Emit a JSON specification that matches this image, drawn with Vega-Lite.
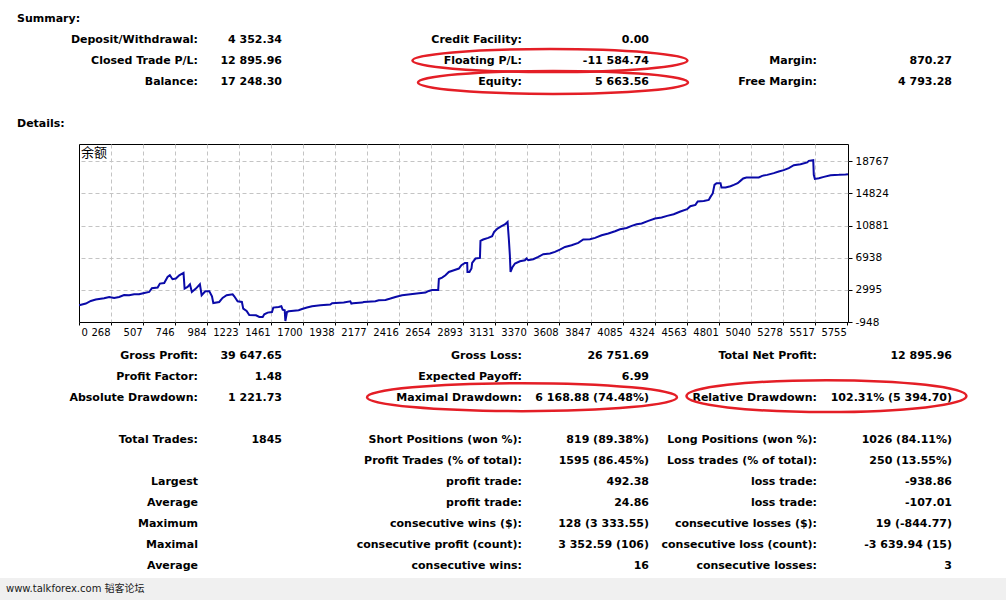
{
  "$schema": "https://vega.github.io/schema/vega-lite/v6.json",
  "width": 769,
  "height": 178,
  "autosize": "none",
  "padding": {"left": 79, "top": 144, "right": 158, "bottom": 278},
  "background": "white",
  "config": {
    "view": {"stroke": "black", "strokeWidth": 1},
    "font": "DejaVu Sans",
    "text": {"font": "DejaVu Sans", "fontSize": 11, "fontWeight": "bold", "color": "black", "baseline": "middle"}
  },
  "datasets": {
    "balance": [
      {"trade":30,"balance":1103},{"trade":80,"balance":1312},{"trade":117,"balance":1631},{"trade":154,"balance":1803},{"trade":216,"balance":1962},{"trade":254,"balance":2122},{"trade":291,"balance":1999},{"trade":328,"balance":2122},{"trade":365,"balance":2368},{"trade":403,"balance":2331},{"trade":440,"balance":2454},{"trade":477,"balance":2454},{"trade":515,"balance":2613},{"trade":552,"balance":2736},{"trade":572,"balance":3190},{"trade":615,"balance":3276},{"trade":632,"balance":3768},{"trade":664,"balance":3841},{"trade":689,"balance":4578},{"trade":706,"balance":4787},{"trade":726,"balance":4296},{"trade":751,"balance":4382},{"trade":776,"balance":4787},{"trade":808,"balance":5069},{"trade":816,"balance":3154},{"trade":838,"balance":3350},{"trade":856,"balance":3682},{"trade":870,"balance":2736},{"trade":900,"balance":3154},{"trade":930,"balance":3682},{"trade":943,"balance":2331},{"trade":970,"balance":2822},{"trade":1000,"balance":2822},{"trade":1020,"balance":2208},{"trade":1030,"balance":1385},{"trade":1074,"balance":1508},{"trade":1099,"balance":1999},{"trade":1129,"balance":2331},{"trade":1174,"balance":2454},{"trade":1186,"balance":2208},{"trade":1211,"balance":1594},{"trade":1243,"balance":1508},{"trade":1253,"balance":698},{"trade":1278,"balance":403},{"trade":1298,"balance":-88},{"trade":1348,"balance":-125},{"trade":1373,"balance":-334},{"trade":1398,"balance":-334},{"trade":1410,"balance":-2},{"trade":1435,"balance":206},{"trade":1467,"balance":280},{"trade":1477,"balance":820},{"trade":1517,"balance":894},{"trade":1537,"balance":980},{"trade":1547,"balance":575},{"trade":1562,"balance":489},{"trade":1567,"balance":-825},{"trade":1579,"balance":280},{"trade":1592,"balance":366},{"trade":1666,"balance":489},{"trade":1691,"balance":648},{"trade":1728,"balance":820},{"trade":1766,"balance":980},{"trade":1828,"balance":1103},{"trade":1902,"balance":1189},{"trade":1915,"balance":1348},{"trade":2002,"balance":1434},{"trade":2051,"balance":1594},{"trade":2059,"balance":1312},{"trade":2071,"balance":1348},{"trade":2139,"balance":1434},{"trade":2151,"balance":1508},{"trade":2238,"balance":1594},{"trade":2263,"balance":1717},{"trade":2313,"balance":1754},{"trade":2350,"balance":1926},{"trade":2387,"balance":2122},{"trade":2437,"balance":2331},{"trade":2499,"balance":2454},{"trade":2562,"balance":2576},{"trade":2611,"balance":2662},{"trade":2636,"balance":2859},{"trade":2661,"balance":2982},{"trade":2706,"balance":2982},{"trade":2711,"balance":4332},{"trade":2735,"balance":4504},{"trade":2760,"balance":4787},{"trade":2785,"balance":5192},{"trade":2823,"balance":5401},{"trade":2860,"balance":5610},{"trade":2879,"balance":6015},{"trade":2905,"balance":6297},{"trade":2922,"balance":6297},{"trade":2924,"balance":5192},{"trade":2939,"balance":5192},{"trade":2954,"balance":5610},{"trade":2959,"balance":6297},{"trade":2984,"balance":6838},{"trade":3017,"balance":6911},{"trade":3021,"balance":8999},{"trade":3041,"balance":9171},{"trade":3079,"balance":9367},{"trade":3108,"balance":9576},{"trade":3123,"balance":10104},{"trade":3148,"balance":10522},{"trade":3178,"balance":10804},{"trade":3203,"balance":11013},{"trade":3223,"balance":11332},{"trade":3233,"balance":9085},{"trade":3240,"balance":7243},{"trade":3245,"balance":5192},{"trade":3258,"balance":5732},{"trade":3278,"balance":6224},{"trade":3315,"balance":6506},{"trade":3352,"balance":6629},{"trade":3364,"balance":6838},{"trade":3377,"balance":6629},{"trade":3414,"balance":6752},{"trade":3452,"balance":7034},{"trade":3489,"balance":7366},{"trade":3539,"balance":7452},{"trade":3576,"balance":7648},{"trade":3613,"balance":7943},{"trade":3651,"balance":8262},{"trade":3700,"balance":8471},{"trade":3750,"balance":8753},{"trade":3787,"balance":9171},{"trade":3837,"balance":9208},{"trade":3875,"balance":9367},{"trade":3924,"balance":9699},{"trade":3974,"balance":9908},{"trade":4024,"balance":10190},{"trade":4061,"balance":10436},{"trade":4110,"balance":10595},{"trade":4148,"balance":10841},{"trade":4185,"balance":11050},{"trade":4222,"balance":11136},{"trade":4272,"balance":11455},{"trade":4322,"balance":11750},{"trade":4371,"balance":11872},{"trade":4412,"balance":12069},{"trade":4461,"balance":12278},{"trade":4511,"balance":12609},{"trade":4561,"balance":12892},{"trade":4585,"balance":13260},{"trade":4623,"balance":13420},{"trade":4640,"balance":13837},{"trade":4685,"balance":13911},{"trade":4722,"balance":14034},{"trade":4735,"balance":14402},{"trade":4752,"balance":14820},{"trade":4765,"balance":15876},{"trade":4780,"balance":16084},{"trade":4810,"balance":16084},{"trade":4817,"balance":15556},{"trade":4847,"balance":15556},{"trade":4884,"balance":15716},{"trade":4909,"balance":15876},{"trade":4938,"balance":16084},{"trade":4958,"balance":16367},{"trade":4979,"balance":16662},{"trade":5003,"balance":16784},{"trade":5095,"balance":16784},{"trade":5120,"balance":16981},{"trade":5158,"balance":17104},{"trade":5207,"balance":17312},{"trade":5244,"balance":17521},{"trade":5281,"balance":17681},{"trade":5319,"balance":17926},{"trade":5356,"balance":18295},{"trade":5406,"balance":18418},{"trade":5456,"balance":18626},{"trade":5468,"balance":18823},{"trade":5501,"balance":18909},{"trade":5505,"balance":17104},{"trade":5513,"balance":16612},{"trade":5543,"balance":16698},{"trade":5580,"balance":16858},{"trade":5630,"balance":17067},{"trade":5692,"balance":17104},{"trade":5742,"balance":17153},{"trade":5760,"balance":17190}
    ],
    "cells": [
      {"r":1,"c":1,"t":"Deposit/Withdrawal:"},{"r":1,"c":2,"t":"4 352.34"},{"r":1,"c":3,"t":"Credit Facility:"},{"r":1,"c":4,"t":"0.00"},
      {"r":2,"c":1,"t":"Closed Trade P/L:"},{"r":2,"c":2,"t":"12 895.96"},{"r":2,"c":3,"t":"Floating P/L:"},{"r":2,"c":4,"t":"-11 584.74"},{"r":2,"c":5,"t":"Margin:"},{"r":2,"c":6,"t":"870.27"},
      {"r":3,"c":1,"t":"Balance:"},{"r":3,"c":2,"t":"17 248.30"},{"r":3,"c":3,"t":"Equity:"},{"r":3,"c":4,"t":"5 663.56"},{"r":3,"c":5,"t":"Free Margin:"},{"r":3,"c":6,"t":"4 793.28"},
      {"r":16,"c":1,"t":"Gross Profit:"},{"r":16,"c":2,"t":"39 647.65"},{"r":16,"c":3,"t":"Gross Loss:"},{"r":16,"c":4,"t":"26 751.69"},{"r":16,"c":5,"t":"Total Net Profit:"},{"r":16,"c":6,"t":"12 895.96"},
      {"r":17,"c":1,"t":"Profit Factor:"},{"r":17,"c":2,"t":"1.48"},{"r":17,"c":3,"t":"Expected Payoff:"},{"r":17,"c":4,"t":"6.99"},
      {"r":18,"c":1,"t":"Absolute Drawdown:"},{"r":18,"c":2,"t":"1 221.73"},{"r":18,"c":3,"t":"Maximal Drawdown:"},{"r":18,"c":4,"t":"6 168.88 (74.48%)"},{"r":18,"c":5,"t":"Relative Drawdown:"},{"r":18,"c":6,"t":"102.31% (5 394.70)"},
      {"r":20,"c":1,"t":"Total Trades:"},{"r":20,"c":2,"t":"1845"},{"r":20,"c":3,"t":"Short Positions (won %):"},{"r":20,"c":4,"t":"819 (89.38%)"},{"r":20,"c":5,"t":"Long Positions (won %):"},{"r":20,"c":6,"t":"1026 (84.11%)"},
      {"r":21,"c":3,"t":"Profit Trades (% of total):"},{"r":21,"c":4,"t":"1595 (86.45%)"},{"r":21,"c":5,"t":"Loss trades (% of total):"},{"r":21,"c":6,"t":"250 (13.55%)"},
      {"r":22,"c":1,"t":"Largest"},{"r":22,"c":3,"t":"profit trade:"},{"r":22,"c":4,"t":"492.38"},{"r":22,"c":5,"t":"loss trade:"},{"r":22,"c":6,"t":"-938.86"},
      {"r":23,"c":1,"t":"Average"},{"r":23,"c":3,"t":"profit trade:"},{"r":23,"c":4,"t":"24.86"},{"r":23,"c":5,"t":"loss trade:"},{"r":23,"c":6,"t":"-107.01"},
      {"r":24,"c":1,"t":"Maximum"},{"r":24,"c":3,"t":"consecutive wins ($):"},{"r":24,"c":4,"t":"128 (3 333.55)"},{"r":24,"c":5,"t":"consecutive losses ($):"},{"r":24,"c":6,"t":"19 (-844.77)"},
      {"r":25,"c":1,"t":"Maximal"},{"r":25,"c":3,"t":"consecutive profit (count):"},{"r":25,"c":4,"t":"3 352.59 (106)"},{"r":25,"c":5,"t":"consecutive loss (count):"},{"r":25,"c":6,"t":"-3 639.94 (15)"},
      {"r":26,"c":1,"t":"Average"},{"r":26,"c":3,"t":"consecutive wins:"},{"r":26,"c":4,"t":"16"},{"r":26,"c":5,"t":"consecutive losses:"},{"r":26,"c":6,"t":"3"}
    ]
  },
  "resolve": {"scale": {"x": "independent", "y": "independent"}},
  "layer": [
    {
      "layer": [
        {
          "data": {"name": "balance"},
          "mark": {"type": "line", "color": "#0a0aa8", "strokeWidth": 2, "strokeJoin": "miter"},
          "encoding": {
            "x": {
              "field": "trade", "type": "quantitative",
              "scale": {"domain": [29, 5760], "nice": false, "zero": false},
              "axis": {
                "title": null,
                "values": [29, 268, 507, 746, 984, 1223, 1461, 1700, 1938, 2177, 2416, 2654, 2893, 3131, 3370, 3608, 3847, 4085, 4324, 4563, 4801, 5040, 5278, 5517, 5755],
                "tickCount": 40,
                "format": "d",
                "labelExpr": "datum.value < 100 ? '0' : datum.label",
                "labelAlign": {"condition": {"test": "datum.value < 100", "value": "left"}, "value": "right"},
                "labelOffset": {"condition": {"test": "datum.value < 100", "value": 2}, "value": -1},
                "labelBaseline": "top",
                "labelPadding": 2,
                "labelFont": "DejaVu Sans",
                "labelFontSize": 10,
                "labelColor": "black",
                "labelOverlap": false,
                "labelFlush": false,
                "tickSize": 3,
                "tickColor": "black",
                "domain": false,
                "grid": true,
                "gridColor": "#c4c4c4",
                "gridDash": [4, 3],
                "gridOpacity": {"condition": {"test": "datum.value < 100 || datum.value > 5700", "value": 0}, "value": 1}
              }
            },
            "y": {
              "field": "balance", "type": "quantitative",
              "scale": {"domain": [-948, 20890], "nice": false, "zero": false},
              "axis": {
                "title": null,
                "orient": "right",
                "values": [-948, 2995, 6938, 10881, 14824, 18767],
                "tickCount": 12,
                "labelExpr": "datum.value < 0 ? '-' + format(-datum.value, 'd') : format(datum.value, 'd')",
                "labelAlign": "left",
                "labelBaseline": "middle",
                "labelPadding": 3,
                "labelFont": "DejaVu Sans",
                "labelFontSize": 10.5,
                "labelColor": "black",
                "labelOverlap": false,
                "labelFlush": false,
                "tickSize": 4,
                "tickColor": "black",
                "domain": false,
                "grid": true,
                "gridColor": "#c4c4c4",
                "gridDash": [4, 3],
                "gridOpacity": {"condition": {"test": "datum.value < 0", "value": 0}, "value": 1}
              }
            }
          }
        },
        {
          "data": {"values": [{"t": "余额", "trade": 29, "balance": 20890}]},
          "mark": {"type": "text", "align": "left", "baseline": "top", "dx": 2, "dy": 3, "font": "Noto Sans CJK SC", "fontSize": 13, "fontWeight": "normal", "color": "black"},
          "encoding": {
            "x": {"field": "trade", "type": "quantitative"},
            "y": {"field": "balance", "type": "quantitative"},
            "text": {"field": "t"}
          }
        }
      ]
    },
    {
      "layer": [
        {
          "data": {"values": [{"band": "footer", "c0": 0, "c1": 7, "r0": 26.57, "r1": 28}]},
          "mark": {"type": "rect", "color": "#f0f0f0"},
          "encoding": {
            "x": {"field": "c0", "type": "quantitative", "axis": null,
                  "scale": {"domain": [0, 1, 2, 3, 4, 5, 6, 7], "range": [-79, 119, 203, 443, 570, 738, 873, 927], "nice": false, "zero": false}},
            "x2": {"field": "c1"},
            "y": {"field": "r0", "type": "quantitative", "axis": null,
                  "scale": {"domain": [0, 26], "range": [-124.7, 422], "nice": false, "zero": false}},
            "y2": {"field": "r1"}
          }
        },
        {
          "data": {"name": "cells"},
          "mark": {"type": "text", "align": "right"},
          "encoding": {
            "x": {"field": "c", "type": "quantitative", "axis": null},
            "y": {"field": "r", "type": "quantitative", "axis": null},
            "text": {"field": "t"}
          }
        },
        {
          "data": {"values": [{"t": "Summary:", "c": 0, "r": 0}, {"t": "Details:", "c": 0, "r": 5}]},
          "mark": {"type": "text", "align": "left", "dx": 17},
          "encoding": {
            "x": {"field": "c", "type": "quantitative", "axis": null},
            "y": {"field": "r", "type": "quantitative", "axis": null},
            "text": {"field": "t"}
          }
        },
        {
          "data": {"values": [{"t": "www.talkforex.com 韬客论坛", "c": 0, "r": 27.1}]},
          "mark": {"type": "text", "align": "left", "dx": 6, "font": "DejaVu Sans, Noto Sans CJK SC", "fontSize": 10, "fontWeight": "normal", "color": "#1a1a1a"},
          "encoding": {
            "x": {"field": "c", "type": "quantitative", "axis": null},
            "y": {"field": "r", "type": "quantitative", "axis": null},
            "text": {"field": "t"}
          }
        },
        {
          "data": {"values": [{"box": "Floating P/L", "c": 3.22, "r": 1.96}]},
          "mark": {"type": "point", "filled": false, "opacity": 1, "stroke": "#e41e26", "strokeWidth": 2.5, "size": 75625,
                   "shape": "M 1 0 C 1 0.0462 0.5523 0.0836 0 0.0836 C -0.5523 0.0836 -1 0.0462 -1 0 C -1 -0.0462 -0.5523 -0.0836 0 -0.0836 C 0.5523 -0.0836 1 -0.0462 1 0 Z"},
          "encoding": {
            "x": {"field": "c", "type": "quantitative", "axis": null},
            "y": {"field": "r", "type": "quantitative", "axis": null}
          }
        },
        {
          "data": {"values": [{"box": "Equity", "c": 3.244, "r": 3.0}]},
          "mark": {"type": "point", "filled": false, "opacity": 1, "stroke": "#e41e26", "strokeWidth": 2.5, "size": 72900,
                   "shape": "M 1 0 C 1 0.0471 0.5523 0.0852 0 0.0852 C -0.5523 0.0852 -1 0.0471 -1 0 C -1 -0.0471 -0.5523 -0.0852 0 -0.0852 C 0.5523 -0.0852 1 -0.0471 1 0 Z"},
          "encoding": {
            "x": {"field": "c", "type": "quantitative", "axis": null},
            "y": {"field": "r", "type": "quantitative", "axis": null}
          }
        },
        {
          "data": {"values": [{"box": "Maximal Drawdown", "c": 3.0, "r": 17.97}]},
          "mark": {"type": "point", "filled": false, "opacity": 1, "stroke": "#e41e26", "strokeWidth": 2.5, "size": 96100,
                   "shape": "M 1 0 C 1 0.0499 0.5523 0.0903 0 0.0903 C -0.5523 0.0903 -1 0.0499 -1 0 C -1 -0.0499 -0.5523 -0.0903 0 -0.0903 C 0.5523 -0.0903 1 -0.0499 1 0 Z"},
          "encoding": {
            "x": {"field": "c", "type": "quantitative", "axis": null},
            "y": {"field": "r", "type": "quantitative", "axis": null}
          }
        },
        {
          "data": {"values": [{"box": "Relative Drawdown", "c": 5.07, "r": 17.92}]},
          "mark": {"type": "point", "filled": false, "opacity": 1, "stroke": "#e41e26", "strokeWidth": 2.5, "size": 78400,
                   "shape": "M 1 0 C 1 0.063 0.5523 0.114 0 0.114 C -0.5523 0.114 -1 0.063 -1 0 C -1 -0.063 -0.5523 -0.114 0 -0.114 C 0.5523 -0.114 1 -0.063 1 0 Z"},
          "encoding": {
            "x": {"field": "c", "type": "quantitative", "axis": null},
            "y": {"field": "r", "type": "quantitative", "axis": null}
          }
        }
      ]
    }
  ]
}
